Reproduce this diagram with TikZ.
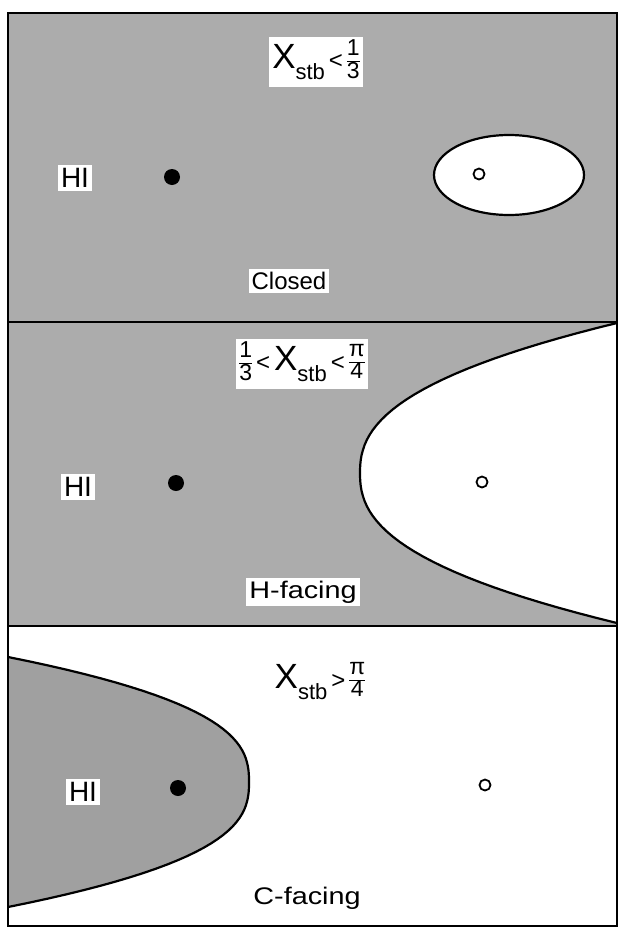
\documentclass[tikz,border=0pt]{standalone}
\usepackage{fontspec}
\setmainfont{Liberation Sans}
\usepackage{graphicx}
\definecolor{screen}{RGB}{172,172,172}
\definecolor{screendark}{RGB}{160,160,160}
\newcommand{\sz}[2]{{\fontsize{#1}{#1}\selectfont #2}}
\newcommand{\xstb}{\sz{35}{X}\raisebox{-11pt}{\sz{22}{stb}}}
\newcommand{\fr}[2]{\sz{23}{\renewcommand{\arraystretch}{0.78}\setlength{\arrayrulewidth}{1.2pt}%
    \begin{tabular}{@{}c@{}}#1\\\hline #2\end{tabular}}}
\newcommand{\lt}{\,\sz{24}{<}\,}
\newcommand{\gt}{\,\sz{24}{>}\,}
\begin{document}
\begin{tikzpicture}[
        x=1pt, y=-1pt,
        every node/.style={font=\fontsize{24}{28}\selectfont, inner sep=3pt},
        tag/.style={fill=white},
        hi/.style={fill=white, font=\fontsize{28}{32}\selectfont},
        regime/.style={fill=white, inner sep=3pt},
        hsite/.style={circle, fill=black, minimum size=16pt, inner sep=0pt},
        osite/.style={circle, draw, line width=1.8pt, minimum size=11pt, inner sep=0pt},
        rim/.style={line width=2.2pt},
        frame/.style={line width=2.2pt}
    ]
    \useasboundingbox (0,0) rectangle (621,929);
    \fill[screen] (8,13) rectangle (617,626);
    \draw[rim, fill=white] (509,175) ellipse [x radius=75, y radius=40];
    \draw[rim, fill=white, domain=-150:150, samples=60, variable=\t]
        plot ({360+257*pow(abs(\t)/150,2.4)}, {473+\t});
    \draw[rim, fill=screendark, domain=-125:125, samples=60, variable=\t]
        plot ({249-241*pow(abs(\t)/125,2.6)}, {782+\t});
    \draw[frame] (8,13) rectangle (617,926);
    \draw[frame] (8,322) -- (617,322);
    \draw[frame] (8,626) -- (617,626);

    \node[regime] (condA) at (316,62) {\xstb\lt\fr{1}{3}};
    \node[hi] (hiA) at (75,178) {HI};
    \node[hsite] (hA) at (172,177) {};
    \node[osite] (oA) at (479,174) {};
    \node[tag] (nameA) at (289,281) {Closed};

    \node[regime] (condB) at (302,364) {\fr{1}{3}\lt\xstb\lt\fr{π}{4}};
    \node[hi] (hiB) at (78,487) {HI};
    \node[hsite] (hB) at (176,483) {};
    \node[osite] (oB) at (482,482) {};
    \node[tag] (nameB) at (303,592) {\scalebox{1.2}[1]{H-facing}};

    \node[regime, fill=none] (condC) at (320,682) {\xstb\gt\fr{π}{4}};
    \node[hi] (hiC) at (83,792) {HI};
    \node[hsite] (hC) at (178,788) {};
    \node[osite] (oC) at (485,785) {};
    \node (nameC) at (307,898) {\scalebox{1.2}[1]{C-facing}};
\end{tikzpicture}
\end{document}
